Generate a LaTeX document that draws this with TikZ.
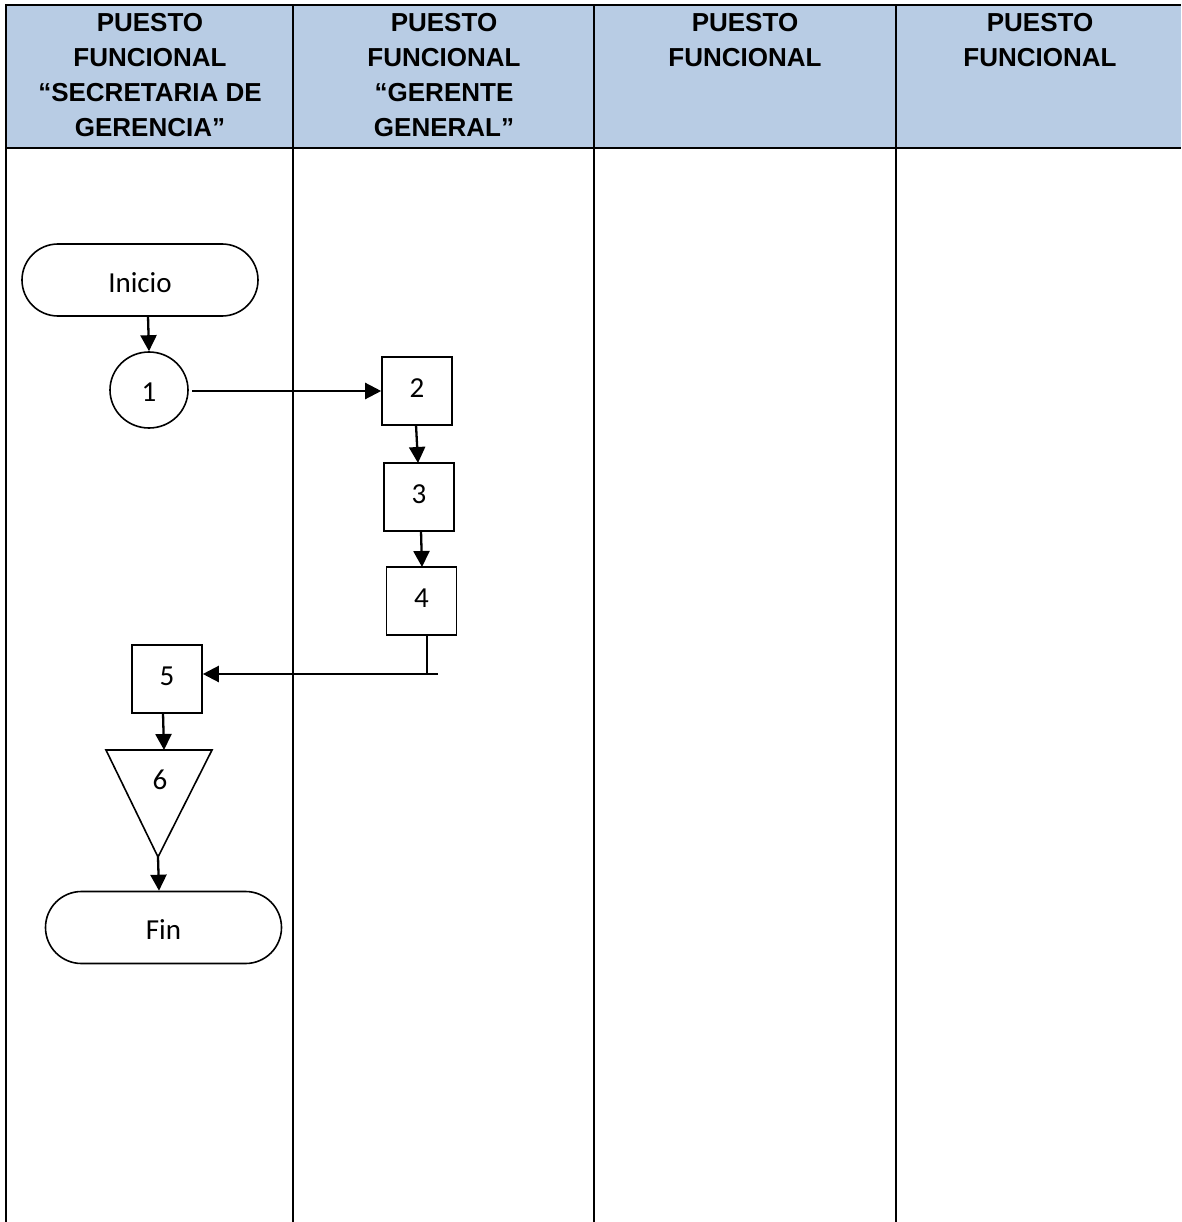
\documentclass[tikz,border=0pt]{standalone}
\usepackage{fontspec}
\setmainfont{Carlito}
\newfontfamily\headfont{Liberation Sans}
\usetikzlibrary{arrows.meta,shapes.misc,shapes.geometric}
\definecolor{headblue}{RGB}{184,204,228}
\begin{document}
\begin{tikzpicture}[x=1pt,y=-1pt,
  grid/.style={line width=2pt},
  shapeline/.style={draw,line width=1.6pt},
  bodyfont/.style={font=\fontsize{29}{34}\selectfont},
  terminal/.style={shapeline,rounded rectangle,minimum width=236pt,minimum height=72pt,inner sep=0pt,bodyfont,text height=26pt,text depth=2pt},
  procbox/.style={shapeline,rectangle,minimum width=70pt,minimum height=68pt,inner sep=0pt,bodyfont,text height=18pt,text depth=6pt},
  opcircle/.style={shapeline,ellipse,minimum width=78pt,minimum height=76pt,inner sep=0pt,bodyfont,text height=25pt,text depth=3pt},
  lbl/.style={inner sep=0pt,bodyfont},
  flow/.style={line width=2.3pt,-{Triangle[length=16pt,width=16pt]}},
  head/.style={inner sep=0pt,align=center,anchor=base,font=\headfont\bfseries\fontsize{26}{35.3}\selectfont}]
\useasboundingbox (0,0) rectangle (1181,1222);

% header band and lane grid
\fill[headblue] (6,5) rectangle (1181,148);
\draw[grid] (5,5) -- (1181,5);
\draw[grid] (5,148) -- (1181,148);
\foreach \lx in {6,293,594,896}
  \draw[grid] (\lx,5) -- (\lx,1222);

% lane titles (anchored on the baseline of their last line)
\node[head] (h1) at (150,137) {PUESTO\\FUNCIONAL\\“SECRETARIA DE\\GERENCIA”};
\node[head] (h2) at (444,137) {PUESTO\\FUNCIONAL\\“GERENTE\\GENERAL”};
\node[head] (h3) at (745,67) {PUESTO\\FUNCIONAL};
\node[head] (h4) at (1040,67) {PUESTO\\FUNCIONAL};

% flow shapes
\node[terminal] (ini) at (140,280) {Inicio};
\node[opcircle] (c1) at (149,390) {1};
\node[procbox] (b2) at (417,391) {2};
\node[procbox] (b3) at (419,497) {3};
\node[procbox] (b4) at (421.5,601) {4};
\node[procbox] (b5) at (167,679) {5};
\coordinate (t6a) at (106,750);
\coordinate (t6b) at (212,750);
\coordinate (t6c) at (158,857);
\draw[line width=1.6pt,line join=miter] (t6a) -- (t6b) -- (t6c) -- cycle;
\node[lbl] (n6) at (160,780) {6};
\coordinate (t6top) at (164,750);
\node[terminal] (fin) at (163.5,927.5) {Fin};

% connectors
\draw[flow] (148,316) -- (c1.north);
\draw[flow] (192,391) -- (b2.west);
\draw[flow] (416,425) -- (418,463);
\draw[flow] (421,531) -- (422,567);
\coordinate (j4) at (427,674);
\coordinate (j4r) at (438,674);
\draw[line width=1.6pt] (b4.south -| j4) -- (j4);
\draw[flow] (j4r) -- (j4r -| b5.east);
\draw[flow] (163,713) -- (t6top);
\draw[flow] (t6c) -- (fin.north -| 159,0);
\end{tikzpicture}
\end{document}
